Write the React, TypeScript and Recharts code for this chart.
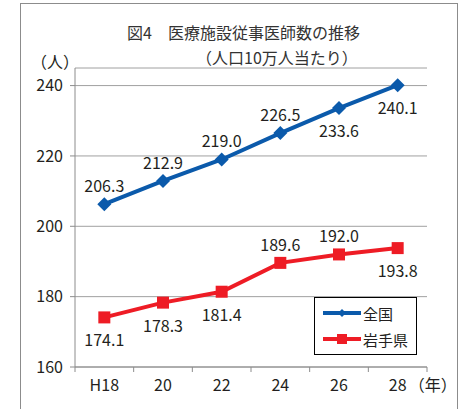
import { LineChart, Line, XAxis, YAxis, CartesianGrid, Legend, LabelList } from 'recharts';

const years = ['H18', '20', '22', '24', '26', '28'];
const national = [206.3, 212.9, 219.0, 226.5, 233.6, 240.1];
const iwate = [174.1, 178.3, 181.4, 189.6, 192.0, 193.8];
const yTicks = [160, 180, 200, 220, 240];
// where each value label sits relative to its point
const nationalLabelSide = ['above', 'above', 'above', 'above', 'below', 'below'];
const iwateLabelSide = ['below', 'below', 'below', 'above', 'above', 'below'];

const BLUE = '#0b5aab';
const RED = '#ee1c25';
const GRAY = '#8c8c8c';
const FONT = '"Noto Sans CJK JP", "Noto Sans", sans-serif';

const W = 461;
const H = 409;
const MARGIN = { top: 68, right: 34, left: 25, bottom: 12 };
const Y_AXIS_W = 50;
const BAND = (W - MARGIN.left - Y_AXIS_W - MARGIN.right) / years.length;

const rows = years.map((year, i) => ({ year, national: national[i], iwate: iwate[i] }));

const Diamond = ({ cx, cy, r = 7, fill = BLUE }: any) => (
  <polygon points={`${cx},${cy - r} ${cx + r},${cy} ${cx},${cy + r} ${cx - r},${cy}`} fill={fill} />
);

const Square = ({ cx, cy, r = 6, fill = RED }: any) => (
  <rect x={cx - r} y={cy - r} width={r * 2} height={r * 2} fill={fill} />
);

const valueLabel = (sides: string[]) => (props: any) => {
  const { x, y, value, index } = props;
  const dy = sides[index] === 'above' ? -19 : 22;
  return (
    <text x={x} y={y + dy} textAnchor="middle" dominantBaseline="central"
      fontSize={16} fill="#231f20" fontFamily={FONT}>
      {Number(value).toFixed(1)}
    </text>
  );
};

// category label plus tick marks on the band edges
const XTick = (props: any) => {
  const { x, y, payload } = props;
  const axisY = y - 13;
  const last = payload.value === years[years.length - 1];
  return (
    <g>
      <line x1={x - BAND / 2} y1={axisY} x2={x - BAND / 2} y2={axisY + 5} stroke={GRAY} />
      {last && <line x1={x + BAND / 2} y1={axisY} x2={x + BAND / 2} y2={axisY + 5} stroke={GRAY} />}
      <text x={x} y={axisY + 17} textAnchor="middle" dominantBaseline="central"
        fontSize={16} fill="#231f20" fontFamily={FONT}>
        {payload.value}
      </text>
      {last && (
        <text x={x + 11} y={axisY + 17} dominantBaseline="central"
          fontSize={16} fill="#231f20" fontFamily={FONT}>
          （年）
        </text>
      )}
    </g>
  );
};

const LegendBox = ({ payload }: any) => (
  <div style={{
    border: '1px solid #000', background: '#fff', width: 101, height: 54,
    boxSizing: 'content-box', fontFamily: FONT, fontSize: 15, color: '#231f20',
    paddingTop: 2,
  }}>
    {(payload || []).map((item: any) => (
      <div key={item.value} style={{ display: 'flex', alignItems: 'center', height: 26 }}>
        <svg width={48} height={14} style={{ marginLeft: 6 }}>
          <line x1={2} y1={7} x2={40} y2={7} stroke={item.color} strokeWidth={4} />
          {item.dataKey === 'national'
            ? <Diamond cx={21} cy={7} r={4} fill={item.color} />
            : <Square cx={21} cy={7} r={5} fill={item.color} />}
        </svg>
        <span style={{ marginLeft: -6 }}>{item.value}</span>
      </div>
    ))}
  </div>
);

const textBlock = {
  position: 'absolute' as const,
  fontFamily: FONT,
  fontSize: 16,
  lineHeight: '16px',
  whiteSpace: 'nowrap' as const,
};

export default function App() {
  return (
    <div style={{ position: 'absolute', left: 0, top: 0, width: W, height: H, background: '#fff', overflow: 'hidden' }}>
      <div style={{
        position: 'absolute', left: 20, top: 3, width: 436, height: 430,
        border: `1.5px solid ${GRAY}`,
      }} />
      <div style={{ ...textBlock, left: 127, top: 24, color: '#333' }}>
        図4　医療施設従事医師数の推移
      </div>
      <div style={{ ...textBlock, left: 196, top: 49, color: '#333' }}>
        （人口10万人当たり）
      </div>
      <div style={{ ...textBlock, left: 31, top: 53, color: '#231f20' }}>
        （人）
      </div>
      <LineChart width={W} height={H} data={rows} margin={MARGIN} style={{ position: 'absolute', left: 0, top: 0 }}>
        <CartesianGrid horizontal vertical={false} stroke="#a0a0a0" />
        <XAxis dataKey="year" scale="band" height={30} tickLine={false} tickSize={5} tickMargin={8}
          axisLine={{ stroke: GRAY }} tick={(p: any) => <XTick {...p} />} interval={0} />
        <YAxis width={Y_AXIS_W} domain={[160, 245]} ticks={yTicks} tickSize={5} tickMargin={7}
          axisLine={{ stroke: GRAY }} tickLine={{ stroke: GRAY }}
          tick={{ fill: '#231f20', fontSize: 16, fontFamily: FONT }} allowDataOverflow />
        <Legend layout="vertical" align="center" verticalAlign="middle"
          wrapperStyle={{ left: 314, top: 297, width: 103 }} content={<LegendBox />} />
        <Line dataKey="national" name="全国" stroke={BLUE} strokeWidth={4}
          dot={(p: any) => <Diamond key={`n${p.index}`} cx={p.cx} cy={p.cy} r={7} />}
          activeDot={false} isAnimationActive={false}>
          <LabelList dataKey="national" content={valueLabel(nationalLabelSide)} />
        </Line>
        <Line dataKey="iwate" name="岩手県" stroke={RED} strokeWidth={4}
          dot={(p: any) => <Square key={`i${p.index}`} cx={p.cx} cy={p.cy} r={6} />}
          activeDot={false} isAnimationActive={false}>
          <LabelList dataKey="iwate" content={valueLabel(iwateLabelSide)} />
        </Line>
      </LineChart>
    </div>
  );
}
